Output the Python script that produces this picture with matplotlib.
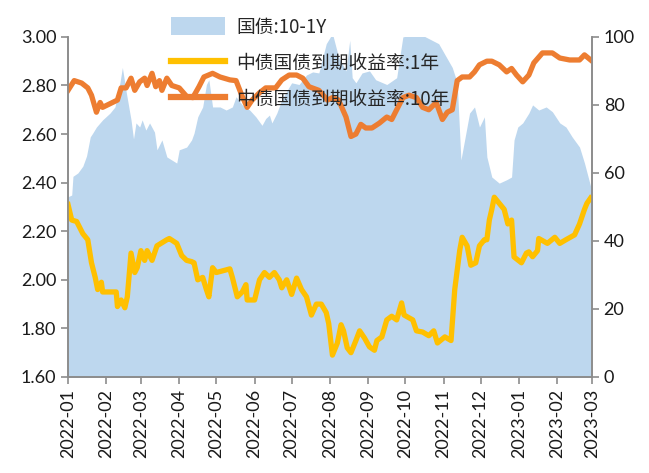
import matplotlib
matplotlib.use("Agg")
import matplotlib.pyplot as plt
import matplotlib.dates as mdates
from matplotlib.patches import Patch
from matplotlib.lines import Line2D
import pandas as pd

plt.rcParams['font.family'] = ['Noto Sans CJK SC', 'DejaVu Sans']

# 中债国债到期收益率:10年 (%)
y10_dates = [
    "2022-01-01", "2022-01-06", "2022-01-12", "2022-01-17", "2022-01-20", "2022-01-24",
    "2022-01-27", "2022-01-29", "2022-02-06", "2022-02-10", "2022-02-13", "2022-02-17",
    "2022-02-21", "2022-02-24", "2022-02-28", "2022-03-04", "2022-03-06", "2022-03-10",
    "2022-03-13", "2022-03-16", "2022-03-18", "2022-03-22", "2022-03-26", "2022-04-01",
    "2022-04-07", "2022-04-12", "2022-04-17", "2022-04-21", "2022-04-28", "2022-05-04",
    "2022-05-12", "2022-05-17", "2022-05-22", "2022-05-26", "2022-05-30", "2022-06-05",
    "2022-06-10", "2022-06-18", "2022-06-23", "2022-06-29", "2022-07-05", "2022-07-10",
    "2022-07-15", "2022-07-23", "2022-07-30", "2022-08-03", "2022-08-08", "2022-08-14",
    "2022-08-18", "2022-08-22", "2022-08-26", "2022-08-30", "2022-09-04", "2022-09-10",
    "2022-09-16", "2022-09-20", "2022-09-24", "2022-09-29", "2022-10-04", "2022-10-10",
    "2022-10-15", "2022-10-20", "2022-10-26", "2022-10-31", "2022-11-04", "2022-11-08",
    "2022-11-12", "2022-11-16", "2022-11-22", "2022-11-26", "2022-11-30", "2022-12-06",
    "2022-12-10", "2022-12-16", "2022-12-22", "2022-12-26", "2022-12-30", "2023-01-04",
    "2023-01-09", "2023-01-13", "2023-01-20", "2023-01-28", "2023-02-03", "2023-02-11",
    "2023-02-19", "2023-02-23", "2023-02-28",
]
y10_values = [
    2.78, 2.82, 2.81, 2.79, 2.76, 2.69,
    2.73, 2.71, 2.73, 2.74, 2.79, 2.79,
    2.83, 2.78, 2.815, 2.83, 2.80, 2.85,
    2.795, 2.82, 2.78, 2.83, 2.80, 2.79,
    2.755, 2.75, 2.795, 2.835, 2.85, 2.835,
    2.823, 2.82, 2.755, 2.71, 2.74, 2.77,
    2.79, 2.79, 2.823, 2.843, 2.843, 2.83,
    2.795, 2.78, 2.74, 2.75, 2.74, 2.67,
    2.59, 2.60, 2.64, 2.625, 2.625, 2.645,
    2.67, 2.66, 2.70, 2.75, 2.76, 2.75,
    2.71, 2.70, 2.73, 2.66, 2.69, 2.70,
    2.82, 2.835, 2.835, 2.856, 2.885, 2.90,
    2.90, 2.885, 2.856, 2.87, 2.843, 2.815,
    2.843, 2.893, 2.934, 2.934, 2.913, 2.905,
    2.905, 2.926, 2.905,
]

# 中债国债到期收益率:1年 (%)
y1_dates = [
    "2022-01-01", "2022-01-04", "2022-01-08", "2022-01-13", "2022-01-17", "2022-01-20",
    "2022-01-23", "2022-01-25", "2022-01-28", "2022-01-29", "2022-02-09", "2022-02-10",
    "2022-02-13", "2022-02-16", "2022-02-18", "2022-02-21", "2022-02-24", "2022-02-26",
    "2022-03-01", "2022-03-04", "2022-03-06", "2022-03-10", "2022-03-14", "2022-03-22",
    "2022-03-24", "2022-03-30", "2022-04-03", "2022-04-07", "2022-04-11", "2022-04-13",
    "2022-04-16", "2022-04-20", "2022-04-23", "2022-04-25", "2022-04-28", "2022-05-01",
    "2022-05-12", "2022-05-14", "2022-05-18", "2022-05-22", "2022-05-25", "2022-05-26",
    "2022-06-01", "2022-06-05", "2022-06-09", "2022-06-13", "2022-06-17", "2022-06-21",
    "2022-06-23", "2022-06-27", "2022-07-01", "2022-07-05", "2022-07-09", "2022-07-13",
    "2022-07-17", "2022-07-21", "2022-07-25", "2022-07-29", "2022-07-31", "2022-08-03",
    "2022-08-07", "2022-08-10", "2022-08-12", "2022-08-15", "2022-08-18", "2022-08-22",
    "2022-08-25", "2022-08-29", "2022-09-02", "2022-09-06", "2022-09-08", "2022-09-12",
    "2022-09-16", "2022-09-20", "2022-09-24", "2022-09-28", "2022-09-30", "2022-10-07",
    "2022-10-10", "2022-10-15", "2022-10-20", "2022-10-24", "2022-10-27", "2022-11-02",
    "2022-11-07", "2022-11-10", "2022-11-14", "2022-11-16", "2022-11-20", "2022-11-23",
    "2022-11-27", "2022-11-30", "2022-12-04", "2022-12-06", "2022-12-08", "2022-12-10",
    "2022-12-12", "2022-12-16", "2022-12-20", "2022-12-23", "2022-12-26", "2022-12-28",
    "2023-01-03", "2023-01-07", "2023-01-09", "2023-01-12", "2023-01-16", "2023-01-17",
    "2023-01-24", "2023-01-30", "2023-02-03", "2023-02-08", "2023-02-15", "2023-02-19",
    "2023-02-23", "2023-02-25", "2023-02-28",
]
y1_values = [
    2.31, 2.246, 2.24, 2.19, 2.165, 2.07,
    2.01, 1.96, 1.99, 1.95, 1.95, 1.89,
    1.917, 1.885, 1.93, 2.11, 2.03, 2.05,
    2.12, 2.08, 2.12, 2.08, 2.14, 2.165,
    2.17, 2.15, 2.10, 2.08, 2.075, 2.07,
    2.00, 2.01, 1.96, 1.93, 2.05, 2.03,
    2.045, 2.01, 1.93, 1.95, 1.98, 1.917,
    1.917, 2.00, 2.03, 2.01, 2.03, 2.00,
    1.967, 2.00, 1.94, 2.007, 1.96, 1.93,
    1.855, 1.90, 1.90, 1.865, 1.82, 1.69,
    1.74, 1.815, 1.79, 1.72, 1.70, 1.75,
    1.79, 1.76, 1.724, 1.71, 1.75, 1.765,
    1.835, 1.85, 1.835, 1.905, 1.855, 1.835,
    1.79, 1.785, 1.77, 1.79, 1.74, 1.765,
    1.75, 1.96, 2.12, 2.175, 2.14, 2.06,
    2.07, 2.14, 2.165, 2.165, 2.246, 2.29,
    2.34, 2.315, 2.29, 2.23, 2.246, 2.094,
    2.07, 2.11, 2.115, 2.095, 2.12, 2.17,
    2.15, 2.175, 2.15, 2.165, 2.185, 2.23,
    2.29, 2.315, 2.337,
]

# 国债:10-1Y (bp)
spread_dates = [
    "2022-01-01", "2022-01-04", "2022-01-05", "2022-01-09", "2022-01-13", "2022-01-16",
    "2022-01-19", "2022-01-21", "2022-01-24", "2022-01-29", "2022-02-04", "2022-02-08",
    "2022-02-12", "2022-02-14", "2022-02-17", "2022-02-21", "2022-02-23", "2022-02-25",
    "2022-02-28", "2022-03-02", "2022-03-05", "2022-03-08", "2022-03-12", "2022-03-14",
    "2022-03-18", "2022-03-22", "2022-03-26", "2022-03-30", "2022-04-01", "2022-04-07",
    "2022-04-11", "2022-04-13", "2022-04-16", "2022-04-20", "2022-04-23", "2022-04-25",
    "2022-04-28", "2022-05-04", "2022-05-09", "2022-05-14", "2022-05-17", "2022-05-22",
    "2022-05-28", "2022-06-02", "2022-06-07", "2022-06-10", "2022-06-13", "2022-06-15",
    "2022-06-19", "2022-06-23", "2022-06-29", "2022-07-01", "2022-07-07", "2022-07-13",
    "2022-07-18", "2022-07-23", "2022-07-29", "2022-08-03", "2022-08-08", "2022-08-14",
    "2022-08-17", "2022-08-19", "2022-08-22", "2022-08-27", "2022-09-02", "2022-09-07",
    "2022-09-16", "2022-09-24", "2022-09-29", "2022-10-12", "2022-10-28", "2022-11-08",
    "2022-11-12", "2022-11-15", "2022-11-18", "2022-11-22", "2022-11-26", "2022-11-30",
    "2022-12-04", "2022-12-06", "2022-12-10", "2022-12-16", "2022-12-22", "2022-12-26",
    "2022-12-28", "2022-12-31", "2023-01-04", "2023-01-09", "2023-01-12", "2023-01-17",
    "2023-01-23", "2023-01-28", "2023-02-03", "2023-02-08", "2023-02-13", "2023-02-19",
    "2023-02-23", "2023-02-28",
]
spread_values = [
    53, 53.5, 59, 60, 62, 65,
    70.6, 71.7, 73.5, 75.6, 77.6, 79.4,
    86.5, 91, 84, 75.6, 70, 74.7,
    73.5, 75.6, 72.6, 74.7, 72, 66.8,
    69.7, 64.7, 63.8, 62.9, 66.8, 67.6,
    69.7, 71.7, 76.5, 79.4, 86, 87.4,
    79.4, 79.4, 78.5, 79.4, 82.4, 80,
    78.5, 76.5, 74, 76, 77, 74.7,
    77.6, 81.5, 85.3, 86.5, 86, 88.8,
    89.7, 89.4, 98, 101, 94, 90,
    99, 88, 86.5, 89.4, 90, 87.4,
    86, 88, 100, 101, 98, 91,
    86.5, 63.8, 69.7, 77.6, 79.4, 73.5,
    76.5, 64.7, 58.8, 57, 58, 58.8,
    69.7, 73.5, 74.7, 77.6, 80, 78.5,
    79.4, 78, 74.7, 73.5, 70.6, 67.6,
    62.9, 56,
]

month_ticks = pd.date_range("2022-01-01", "2023-03-01", freq="MS")

fig = plt.figure(figsize=(6.49, 4.73), dpi=100)
ax = fig.add_axes([0.1048, 0.203, 0.8072, 0.719])
ax2 = ax.twinx()

# 面积放在右轴,画在折线下面
ax2.fill_between(pd.to_datetime(spread_dates), spread_values, 0,
                 color="#BDD7EE", linewidth=0)
ax.set_zorder(ax2.get_zorder() + 1)
ax.patch.set_visible(False)

ax.plot(pd.to_datetime(y1_dates), y1_values, color="#FFC000", lw=3.8,
        solid_joinstyle="round")
ax.plot(pd.to_datetime(y10_dates), y10_values, color="#ED7D31", lw=3.8,
        solid_joinstyle="round")

ax.set_ylim(1.6, 3.0)
ax.set_yticks([1.6, 1.8, 2.0, 2.2, 2.4, 2.6, 2.8, 3.0])
ax.yaxis.set_major_formatter(plt.FormatStrFormatter("%.2f"))
ax2.set_ylim(0, 100)
ax2.set_yticks([0, 20, 40, 60, 80, 100])

ax.set_xlim(month_ticks[0], month_ticks[-1])
ax.set_xticks(month_ticks)
ax.xaxis.set_major_formatter(mdates.DateFormatter("%Y-%m"))

grey = "#8C8C8C"
for a in (ax, ax2):
    a.spines["top"].set_visible(False)
    for s in ("left", "right", "bottom"):
        a.spines[s].set_color(grey)
        a.spines[s].set_linewidth(1.2)
    a.tick_params(colors=grey, labelcolor="#1a1a1a", labelsize=13,
                  length=5, width=1.2, direction="out")
    for lab in a.get_xticklabels() + a.get_yticklabels():
        lab.set_family(["Lato", "DejaVu Sans"])
ax.tick_params(axis="x", labelrotation=90)

handles = [
    Patch(facecolor="#BDD7EE", edgecolor="none"),
    Line2D([], [], color="#FFC000", lw=4.5),
    Line2D([], [], color="#ED7D31", lw=4.5),
]
labels = ["国债:10-1Y", "中债国债到期收益率:1年", "中债国债到期收益率:10年"]
fig.legend(handles, labels, loc="upper left", bbox_to_anchor=(0.237, 1.0),
           frameon=False, fontsize=13.5, handlelength=2.9, handleheight=1.1,
           handletextpad=0.6, labelspacing=0.8, labelcolor="#262626")

fig.savefig("out.png", dpi=100)
